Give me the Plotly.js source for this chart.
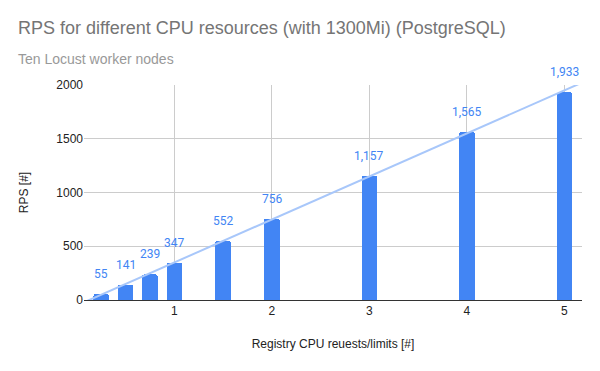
<!DOCTYPE html>
<html>
<head>
<meta charset="utf-8">
<script src="https://cdn.plot.ly/plotly-3.0.1.min.js"></script>
<style>html,body{margin:0;padding:0;background:#fff}#chart{width:600px;height:371px}</style>
</head>
<body>
<div id="chart"></div>
<script>
const cpu = [0.25, 0.5, 0.75, 1, 1.5, 2, 3, 4, 5];
const rps = [55, 141, 239, 347, 552, 756, 1157, 1565, 1933];
const xTicks = [1, 2, 3, 4, 5];
const yTicks = [0, 500, 1000, 1500, 2000];
const xRange = [0.074, 5.18];
const yRange = [0, 2000];

// linear least-squares trendline
const n = cpu.length;
const mx = cpu.reduce((a, b) => a + b, 0) / n;
const my = rps.reduce((a, b) => a + b, 0) / n;
let sxy = 0, sxx = 0;
for (let i = 0; i < n; i++) { sxy += (cpu[i] - mx) * (rps[i] - my); sxx += (cpu[i] - mx) ** 2; }
const slope = sxy / sxx, intercept = my - slope * mx;
const trendX = [xRange[0], xRange[1]];
const trendY = trendX.map(x => intercept + slope * x);

const blue = '#4285F4';
const sans = 'Arial, "Liberation Sans", sans-serif';
const bars = {
  type: 'bar', x: cpu, y: rps, width: 0.16,
  marker: { color: blue, cornerradius: 2 },
  hoverinfo: 'skip', showlegend: false
};
const trend = {
  type: 'scatter', mode: 'lines', x: trendX, y: trendY,
  line: { color: '#A8C7FA', width: 2 }, hoverinfo: 'skip', showlegend: false
};

const annotations = cpu.map((x, i) => ({
  x: x, y: rps[i], xref: 'x', yref: 'y',
  text: rps[i].toLocaleString('en-US'), showarrow: false,
  yanchor: 'bottom', yshift: 11,
  font: { family: 'Roboto, Arial, sans-serif', size: 12, color: blue }
}));
annotations.push({
  xref: 'paper', yref: 'paper', x: 0, y: 1, xanchor: 'left', yanchor: 'bottom',
  text: 'Ten Locust worker nodes', showarrow: false, xshift: -68, yshift: 16,
  font: { family: sans, size: 14, color: '#999999' }
});

const layout = {
  width: 600, height: 371,
  margin: { l: 84, r: 18, t: 85, b: 71 },
  paper_bgcolor: '#fff', plot_bgcolor: '#fff',
  title: {
    text: 'RPS for different CPU resources (with 1300Mi) (PostgreSQL)',
    x: 18 / 600, xref: 'container', xanchor: 'left', y: 1, yref: 'container', yanchor: 'top',
    pad: { t: 21 },
    font: { family: sans, size: 18, color: '#757575' }
  },
  xaxis: {
    range: xRange, tickvals: xTicks, ticktext: xTicks.map(String),
    showgrid: true, gridcolor: '#cccccc', zeroline: false,
    showline: true, linecolor: '#333333', linewidth: 1,
    ticks: '', ticklen: 0,
    tickfont: { family: sans, size: 12, color: '#222' },
    title: { text: 'Registry CPU reuests/limits [#]', standoff: 22,
      font: { family: sans, size: 12, color: '#222' } },
    fixedrange: true
  },
  yaxis: {
    range: yRange, tickvals: yTicks, ticktext: yTicks.map(String),
    showgrid: true, gridcolor: '#cccccc', zeroline: false,
    ticks: '', ticklen: 0,
    tickfont: { family: sans, size: 12, color: '#222' },
    title: { text: 'RPS [#]', standoff: 25,
      font: { family: sans, size: 12, color: '#222' } },
    fixedrange: true
  },
  annotations: annotations,
  bargap: 0
};

Plotly.newPlot('chart', [trend, bars], layout, { displayModeBar: false, staticPlot: true });
</script>
</body>
</html>
